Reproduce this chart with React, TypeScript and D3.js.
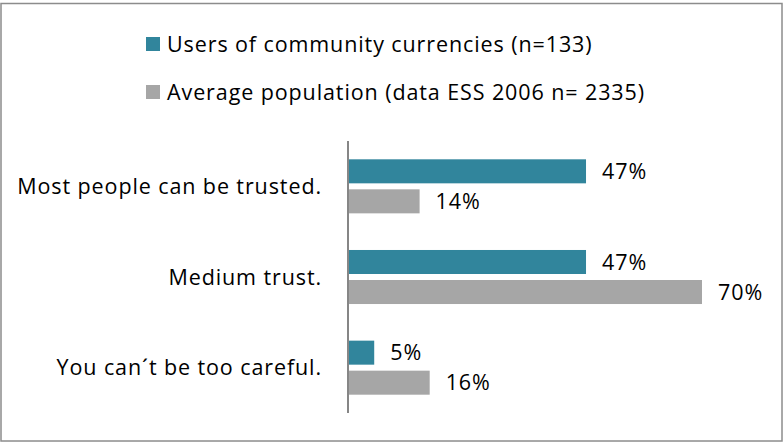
import React, { useRef, useEffect } from 'react';
import * as d3 from 'd3';

// Data
const categories = ['Most people can be trusted.', 'Medium trust.', 'You can\u00b4t be too careful.'];
const seriesNames = ['Users of community currencies (n=133)', 'Average population (data ESS 2006 n= 2335)'];
const usersValues = [47, 47, 5];
const averageValues = [14, 70, 16];
const seriesColors = ['#31859c', '#a6a6a6'];

const WIDTH = 783;
const HEIGHT = 442;
const FONT = '"Open Sans", Lato, sans-serif';
const FONT_SIZE = 21.5;
const SPACING = 0.9;

const App: React.FC = () => {
    const svgRef = useRef<SVGSVGElement | null>(null);

    useEffect(() => {
        if (!svgRef.current) return;
        const svg = d3.select(svgRef.current);
        svg.selectAll('*').remove();

        const series = [usersValues, averageValues];

        // outer frame
        svg.append('rect')
            .attr('x', 1)
            .attr('y', 3.5)
            .attr('width', 781)
            .attr('height', 437.5)
            .attr('fill', 'white')
            .attr('stroke', '#8c8c8c')
            .attr('stroke-width', 1.5);

        const axisX = 349;
        const maxVal = d3.max(series.flat()) || 70;

        const x = d3.scaleLinear()
            .domain([0, maxVal])
            .range([axisX, 702]);

        const y = d3.scaleBand<string>()
            .domain(categories)
            .range([141, 413])
            .padding(0);

        const ySeries = d3.scaleBand<number>()
            .domain(d3.range(series.length))
            .range([0, y.bandwidth()])
            .paddingInner(0.2)
            .paddingOuter(0.61);

        // legend
        const legend = svg.append('g');
        seriesNames.forEach((name, i) => {
            const ly = 44 + i * 48;
            legend.append('rect')
                .attr('x', 146)
                .attr('y', ly - 7)
                .attr('width', 14)
                .attr('height', 14)
                .attr('fill', seriesColors[i]);
            legend.append('text')
                .attr('x', 167)
                .attr('y', ly)
                .attr('dy', '0.35em')
                .attr('font-family', FONT)
                .attr('font-size', FONT_SIZE)
                .attr('letter-spacing', SPACING)
                .attr('fill', '#000')
                .text(name);
        });

        // bars + value labels
        series.forEach((vals, si) => {
            const g = svg.append('g');
            g.selectAll('rect')
                .data(vals)
                .enter().append('rect')
                .attr('x', axisX)
                .attr('y', (_, i) => (y(categories[i]) ?? 0) + (ySeries(si) ?? 0))
                .attr('width', d => x(d) - axisX)
                .attr('height', ySeries.bandwidth())
                .attr('fill', seriesColors[si]);

            g.selectAll('text')
                .data(vals)
                .enter().append('text')
                .attr('x', d => x(d) + 16)
                .attr('y', (_, i) => (y(categories[i]) ?? 0) + (ySeries(si) ?? 0) + ySeries.bandwidth() / 2)
                .attr('dy', '0.35em')
                .attr('font-family', FONT)
                .attr('font-size', FONT_SIZE)
                .attr('letter-spacing', SPACING)
                .attr('fill', '#000')
                .text(d => `${d}%`);
        });

        // category labels
        svg.append('g')
            .selectAll('text')
            .data(categories)
            .enter().append('text')
            .attr('x', 322)
            .attr('y', d => (y(d) ?? 0) + y.bandwidth() / 2)
            .attr('dy', '0.35em')
            .attr('text-anchor', 'end')
            .attr('font-family', FONT)
            .attr('font-size', FONT_SIZE)
            .attr('letter-spacing', SPACING)
            .attr('fill', '#000')
            .text(d => d);

        // vertical category axis
        svg.append('line')
            .attr('x1', axisX - 1)
            .attr('x2', axisX - 1)
            .attr('y1', 141)
            .attr('y2', 413)
            .attr('stroke', '#868686')
            .attr('stroke-width', 2);
    }, []);

    return (
        <div style={{ position: 'fixed', left: 0, top: 0 }}>
            <svg ref={svgRef} width={WIDTH} height={HEIGHT} style={{ display: 'block' }}></svg>
        </div>
    );
};

export default App;
